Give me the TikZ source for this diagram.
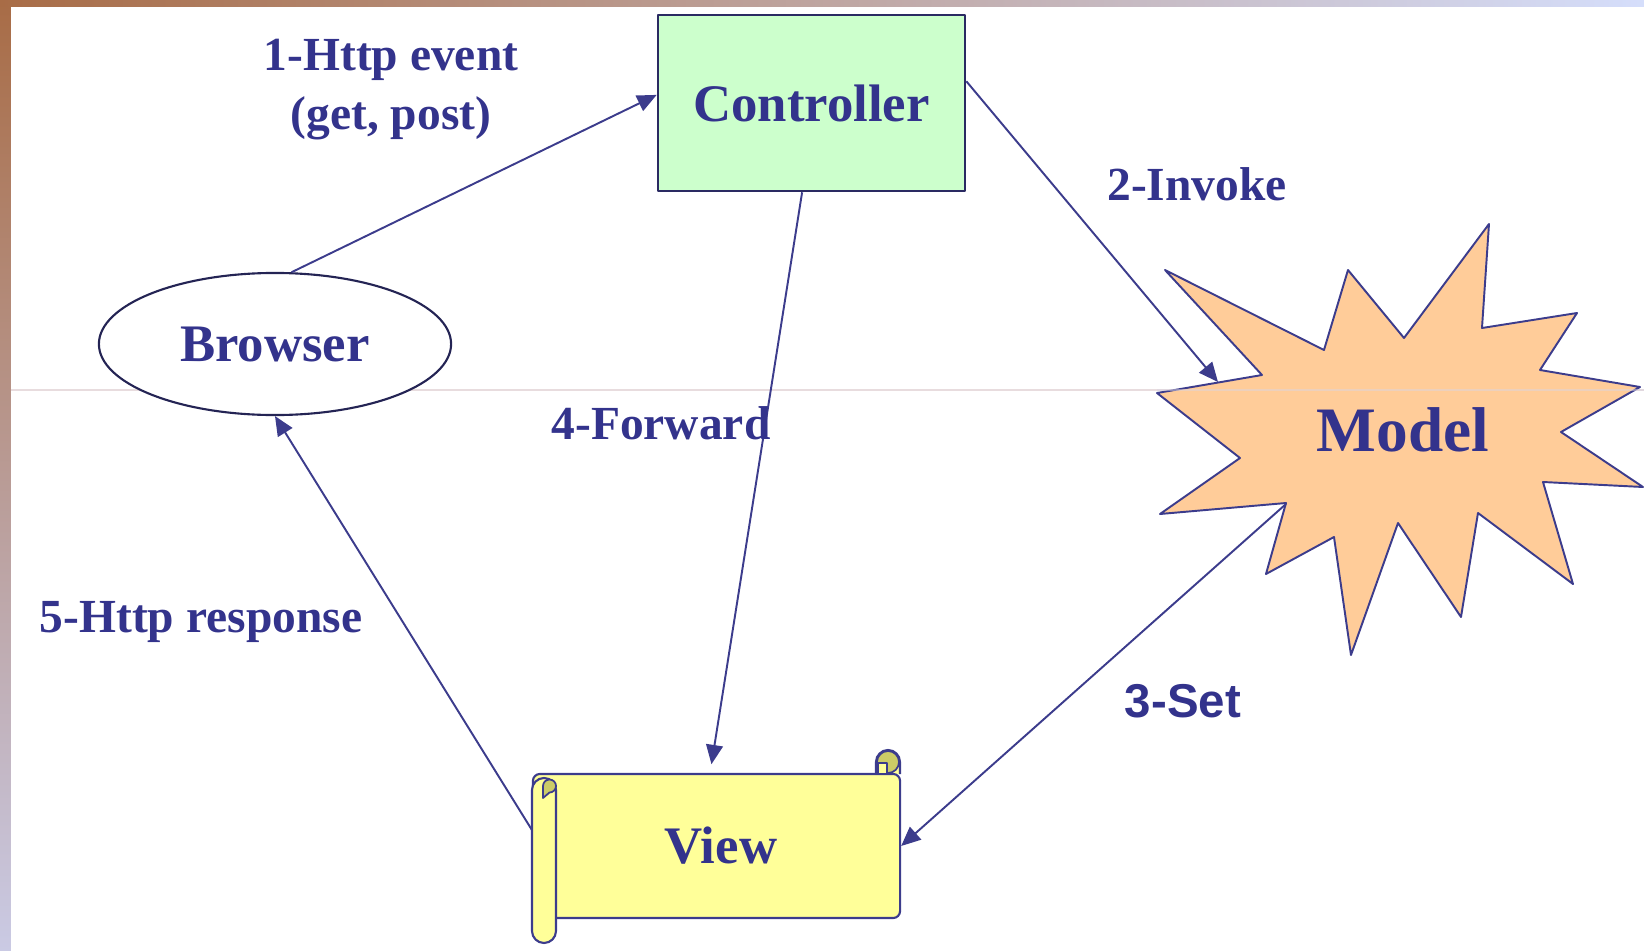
\documentclass[tikz,border=0pt]{standalone}
\usepackage{fontspec}
\setmainfont{Liberation Serif}
\newfontfamily\arialfont{Liberation Sans}
\usetikzlibrary{arrows.meta,shapes.geometric}
\definecolor{navy}{RGB}{51,51,140}
\definecolor{edgeblue}{RGB}{60,60,140}
\definecolor{ctrlgreen}{RGB}{204,255,204}
\definecolor{peach}{RGB}{255,204,153}
\definecolor{paper}{RGB}{255,255,153}
\definecolor{curlolive}{RGB}{204,204,102}
\definecolor{stripbrown}{RGB}{168,108,70}
\definecolor{striplav}{RGB}{202,202,228}
\definecolor{stripblue}{RGB}{213,222,251}
\definecolor{rulepink}{RGB}{232,220,222}
\begin{document}
\begin{tikzpicture}[x=0.01cm,y=-0.01cm,>={Triangle[length=5.5pt,width=4.8pt]},line join=round,
	every node/.style={text=navy},
	lbl/.style={font=\fontsize{13.5}{16.8}\selectfont\bfseries,align=center},
	big/.style={font=\fontsize{15}{18}\selectfont\bfseries},
	conn/.style={->,draw=edgeblue,line width=0.55pt},
	scroll/.style={draw=edgeblue,fill=paper,line width=0.6pt}]
	\useasboundingbox (0,0) rectangle (1644,951);
	% slide edges
	\shade[top color=stripbrown,bottom color=striplav] (0,0) rectangle (11,951);
	\shade[left color=stripbrown,right color=stripblue] (0,0) rectangle (1644,6);
	\draw[rulepink,line width=0.3pt] (11,390) -- (1644,390);
	% boxes
	\node[big,draw=edgeblue!70!black,line width=0.7pt,fill=ctrlgreen,minimum width=3.07cm,minimum height=1.76cm,inner sep=0pt] (ctrl) at (811.5,103) {Controller};
	\node[big,ellipse,draw=edgeblue!60!black,line width=0.6pt,fill=white,minimum width=3.52cm,minimum height=1.42cm,inner sep=0pt] (browser) at (275,344) {Browser};
	% model star
	\draw[draw=edgeblue,fill=peach,line width=0.55pt] plot coordinates {(1165,270) (1324,350) (1348,270) (1404,338) (1489,224) (1482,328) (1577,313) (1540,370) (1640,387) (1561,432) (1643,487) (1543,482) (1573,584) (1478,513) (1461,617) (1398,523) (1351,655) (1334,537) (1266,574) (1286,503) (1160,514) (1240,458) (1157,393) (1262,375)} -- cycle;
	\draw[rulepink!60!striplav,opacity=0.5,line width=0.3pt] (1157,390) -- (1644,390);
	\node[font=\fontsize{18}{21}\selectfont\bfseries] (model) at (1403,430) {Model};
	\path (1218,382) coordinate (mIn) (1286,504) coordinate (mOut);
	% view scroll
	\draw[scroll,rounded corners=0.12cm] (876,774) -- (876,750) -- (900,750) -- (900,774);
	\node[big,scroll,rounded corners=2pt,minimum width=3.67cm,minimum height=1.44cm,inner sep=0pt] (view) at (716.5,846) {};
	\draw[draw=edgeblue,fill=curlolive,line width=0.5pt] (888,762) circle (0.11cm);
	\draw[draw=edgeblue,fill=paper,line width=0.5pt] (878,763) rectangle (887,774);
	\draw[scroll,rounded corners=0.12cm] (532,778) rectangle (556,943);
	\draw[draw=edgeblue,fill=curlolive,line width=0.5pt] (543,798) -- (543,786) arc[start angle=180,end angle=-90,radius=0.065cm] -- cycle;
	\node[big] (viewtxt) at (721,846) {View};
	% connectors
	\draw[conn] (browser.77) -- (ctrl.177);
	\draw[conn] (ctrl.8.5) -- (mIn);
	\draw[conn] (mOut) -- (view.east);
	\draw[conn,shorten >=2.5pt] (ctrl.264.5) -- (view.95.2);
	\draw[conn] (view.175) -- (browser.south);
	% labels
	\node[lbl] (l1) at (391,90) {1-Http event\\(get, post)};
	\node[lbl] (l2) at (1197,184) {2-Invoke};
	\node[lbl,font=\fontsize{13.5}{16.8}\arialfont\bfseries] (l3) at (1183,701) {3-Set};
	\node[lbl] (l4) at (661,423) {4-Forward};
	\node[lbl] (l5) at (201,622) {5-Http response};
\end{tikzpicture}
\end{document}
